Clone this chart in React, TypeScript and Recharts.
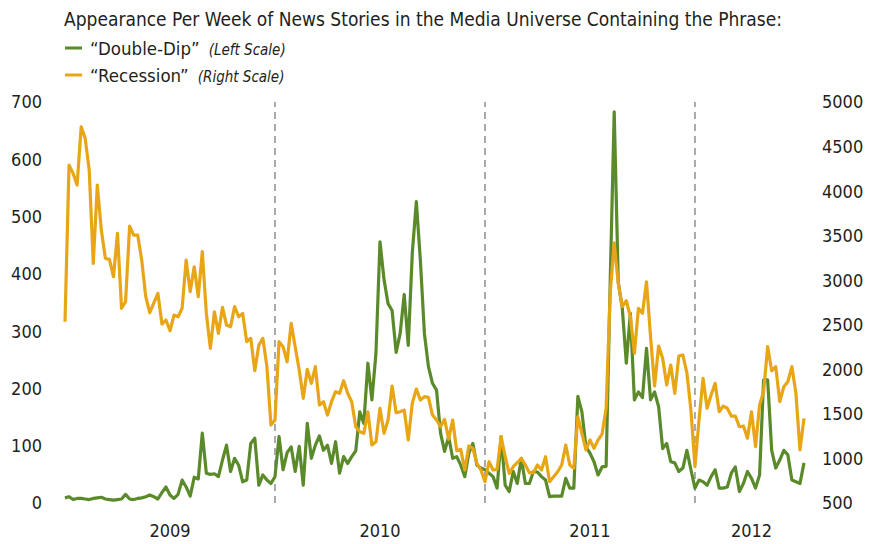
import React from 'react';
import { LineChart, Line, XAxis, YAxis, ReferenceLine } from 'recharts';

// weekly counts
const recession = [
  2534, 4292, 4199, 4068, 4722, 4592, 4236, 3189, 4068, 3563,
  3245, 3234, 3039, 3526, 2685, 2760, 3608, 3507, 3507, 3226,
  2815, 2635, 2745, 2853, 2508, 2553, 2433, 2609, 2590, 2685,
  3226, 2871, 3151, 2815, 3320, 2628, 2236, 2646, 2404, 2696,
  2497, 2478, 2703, 2590, 2628, 2310, 2348, 1984, 2273, 2348,
  2030, 1375, 1431, 2310, 2254, 2085, 2516, 2254, 1992, 1675,
  2000, 1843, 2030, 1600, 1637, 1487, 1637, 1749, 1731, 1872,
  1731, 1637, 1356, 1300, 1282, 1524, 1151, 1188, 1563, 1282,
  1431, 1813, 1513, 1524, 1543, 1207, 1619, 1779, 1656, 1693,
  1686, 1487, 1431, 1356, 1439, 1215, 1431, 1087, 1102, 870,
  1140, 1114, 945, 870, 739, 963, 870, 878, 1244, 1019,
  833, 907, 952, 1001, 926, 840, 840, 926, 870, 1019,
  739, 795, 851, 926, 1151, 926, 889, 1468, 1282, 1095,
  1207, 1114, 1207, 1274, 1563, 2850, 3420, 2965, 2703, 2770,
  2590, 2180, 2685, 2628, 2983, 2366, 1813, 2262, 2124, 1824,
  2048, 1731, 2149, 2161, 1960, 1543, 907, 1431, 1899, 1563,
  1712, 1843, 1524, 1588, 1563, 1476, 1476, 1356, 1364, 1226,
  1524, 1132, 1600, 1749, 2254, 1984, 2030, 1637, 1805, 1861,
  2030, 1731, 1095, 1450,
];

const doubleDip = [
  9, 11, 6, 8, 8, 7, 6, 8, 9, 10,
  7, 6, 5, 6, 7, 15, 7, 6, 8, 9,
  11, 14, 11, 7, 18, 28, 14, 8, 15, 40,
  28, 12, 45, 42, 122, 52, 50, 51, 46, 75,
  101, 55, 78, 66, 37, 40, 104, 113, 31, 49,
  40, 34, 46, 116, 58, 88, 98, 55, 99, 31,
  139, 78, 101, 117, 92, 101, 69, 107, 52, 81,
  69, 81, 91, 159, 139, 244, 180, 261, 456, 390,
  348, 336, 263, 296, 364, 275, 436, 526, 424, 296,
  238, 209, 197, 122, 90, 116, 78, 81, 66, 46,
  87, 104, 66, 61, 58, 52, 46, 26, 116, 31,
  20, 55, 34, 78, 34, 34, 55, 54, 46, 40,
  11, 12, 12, 12, 43, 26, 26, 186, 159, 98,
  87, 72, 49, 63, 64, 383, 683, 386, 340, 244,
  331, 180, 194, 184, 270, 180, 194, 168, 95, 104,
  72, 70, 55, 61, 92, 58, 26, 40, 37, 31,
  46, 58, 26, 26, 28, 52, 63, 20, 34, 55,
  43, 26, 49, 215, 215, 92, 61, 75, 92, 84,
  40, 37, 34, 70,
];

const yearBreaks = [52, 104, 156];
const yearTicks = [26, 78, 130, 170];
const yearLabels = ['2009', '2010', '2011', '2012'];
const leftTicks = [0, 100, 200, 300, 400, 500, 600, 700];
const rightTicks = [500, 1000, 1500, 2000, 2500, 3000, 3500, 4000, 4500, 5000];

const data = recession.map((r, i) => ({ week: i, recession: r, doubleDip: doubleDip[i] }));

const FONT = "'Liberation Sans Narrow', 'DejaVu Sans Condensed', 'Arial Narrow', sans-serif";
const GREEN = '#5b8a2a';
const GOLD = '#e8a617';
const INK = '#231f20';

const tickStyle = { fill: INK, fontSize: 18, fontFamily: FONT };

export default function App() {
  return (
    <div style={{ position: 'absolute', left: 0, top: 0, width: 874, height: 544, background: '#fff', fontFamily: FONT }}>
      <LineChart width={874} height={544} data={data} margin={{ top: 102, right: 0, bottom: 0, left: 0 }}>
        <XAxis
          dataKey="week"
          type="number"
          domain={[0, recession.length - 1]}
          ticks={yearTicks}
          tickFormatter={(v) => yearLabels[yearTicks.indexOf(v)]}
          interval={0}
          height={41}
          axisLine={false}
          tickLine={false}
          tickSize={0}
          tickMargin={21}
          tick={tickStyle}
        />
        <YAxis
          yAxisId="left"
          orientation="left"
          width={65}
          domain={[0, 700]}
          ticks={leftTicks}
          interval={0}
          axisLine={false}
          tickLine={false}
          tickSize={0}
          tickMargin={23}
          tick={tickStyle}
        />
        <YAxis
          yAxisId="right"
          orientation="right"
          width={70}
          domain={[500, 5000]}
          ticks={rightTicks}
          interval={0}
          axisLine={false}
          tickLine={false}
          tickSize={0}
          tickMargin={18}
          tick={tickStyle}
        />
        {yearBreaks.map((b) => (
          <ReferenceLine key={b} yAxisId="left" x={b} stroke="#8f8f8f" strokeWidth={1.5} strokeDasharray="7 5" />
        ))}
        <Line
          yAxisId="left"
          dataKey="doubleDip"
          stroke={GREEN}
          strokeWidth={3.2}
          dot={false}
          type="linear"
          strokeLinejoin="round"
          isAnimationActive={false}
        />
        <Line
          yAxisId="right"
          dataKey="recession"
          stroke={GOLD}
          strokeWidth={3.2}
          dot={false}
          type="linear"
          strokeLinejoin="round"
          isAnimationActive={false}
        />
      </LineChart>
      <svg width={874} height={100} style={{ position: 'absolute', left: 0, top: 0, pointerEvents: 'none' }}>
        <text x={64} y={26} fontSize={19} fill={INK} fontFamily={FONT}>
          Appearance Per Week of News Stories in the Media Universe Containing the Phrase:
        </text>
        <line x1={65} x2={82} y1={48} y2={48} stroke={GREEN} strokeWidth={3} />
        <text x={90} y={55} fontSize={18.5} fill={INK} fontFamily={FONT}>
          “Double-Dip”
          <tspan dx={9} fontStyle="italic" fontSize={15}>(Left Scale)</tspan>
        </text>
        <line x1={65} x2={82} y1={75} y2={75} stroke={GOLD} strokeWidth={3} />
        <text x={90} y={82} fontSize={18.5} fill={INK} fontFamily={FONT}>
          “Recession”
          <tspan dx={9} fontStyle="italic" fontSize={15}>(Right Scale)</tspan>
        </text>
      </svg>
    </div>
  );
}
